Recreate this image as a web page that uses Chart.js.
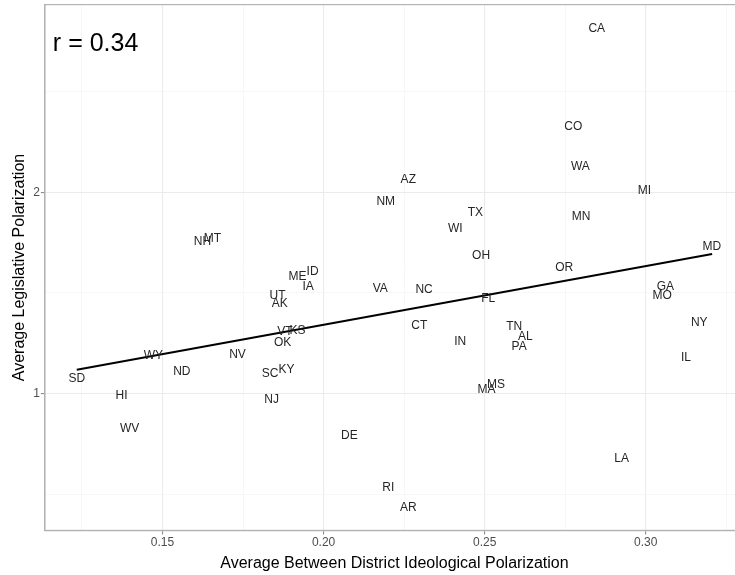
<!DOCTYPE html>
<html>
<head>
<meta charset="utf-8">
<script src="https://cdn.jsdelivr.net/npm/chart.js@4/dist/chart.umd.min.js"></script>
<style>
  html, body { margin: 0; padding: 0; background: #ffffff; overflow: hidden; width: 735px; height: 575px; }
  canvas { display: block; }
</style>
</head>
<body>
<canvas id="c" width="760" height="575"></canvas>
<script>
// ---- data ----
const states = ["CA","CO","WA","AZ","MI","NM","TX","MN","WI","OH","MD","OR",
  "NH","MT","ME","ID","IA","UT","AK","VT","KS","OK",
  "WY","NV","ND","SD","HI","WV","SC","KY","NJ","DE",
  "VA","NC","FL","CT","IN","TN","AL","PA","MS","MA",
  "GA","MO","NY","IL","LA","RI","AR"];
const betweenDistrict = [0.2848,0.2775,0.2797,0.2263,0.2996,0.2193,0.2471,0.2799,0.2409,0.2489,0.3205,0.2747,
  0.1624,0.1655,0.1919,0.1966,0.1952,0.1857,0.1864,0.1880,0.1919,0.1873,
  0.1472,0.1733,0.1560,0.1234,0.1373,0.1398,0.1834,0.1885,0.1839,0.2080,
  0.2176,0.2312,0.2511,0.2297,0.2424,0.2592,0.2626,0.2607,0.2535,0.2506,
  0.3061,0.3051,0.3166,0.3125,0.2925,0.2201,0.2263];
const legislative = [2.812,2.324,2.125,2.064,2.010,1.955,1.897,1.881,1.817,1.684,1.729,1.625,
  1.754,1.770,1.580,1.605,1.530,1.489,1.448,1.307,1.311,1.255,
  1.187,1.192,1.109,1.073,0.989,0.825,1.098,1.118,0.972,0.792,
  1.519,1.514,1.470,1.337,1.258,1.332,1.283,1.233,1.043,1.022,
  1.530,1.489,1.352,1.178,0.676,0.534,0.432];
const fitX = [0.1234, 0.3206];
const fitY = [1.119, 1.693];
const xMajorTicks = [0.15, 0.20, 0.25, 0.30];
const xMinorTicks = [0.125, 0.175, 0.225, 0.275, 0.325];
const yMajorTicks = [1, 2];
const yMinorTicks = [0.5, 1.5, 2.5];
const corrLabel = "r = 0.34";

const FONT = "'Liberation Sans', Arial, Helvetica, sans-serif";
const isMajor = (list, v) => list.some(t => Math.abs(t - v) < 1e-9);

const labelPlugin = {
  id: 'stateLabels',
  afterDatasetsDraw(chart) {
    const ctx = chart.ctx;
    const meta = chart.getDatasetMeta(0);
    ctx.save();
    ctx.font = '12px ' + FONT;
    ctx.fillStyle = '#262626';
    ctx.textAlign = 'center';
    ctx.textBaseline = 'middle';
    meta.data.forEach((pt, i) => {
      ctx.fillText(states[i], pt.x, pt.y);
    });
    ctx.font = '25px ' + FONT;
    ctx.fillStyle = '#000000';
    ctx.textAlign = 'left';
    ctx.fillText(corrLabel, chart.chartArea.left + 8, chart.chartArea.top + 40);
    ctx.restore();
  },
  afterDraw(chart) {
    const a = chart.chartArea;
    const ctx = chart.ctx;
    ctx.save();
    ctx.strokeStyle = '#b3b3b3';
    ctx.lineWidth = 1.2;
    ctx.strokeRect(a.left, a.top, a.right - a.left, a.bottom - a.top);
    ctx.restore();
  }
};

new Chart(document.getElementById('c'), {
  data: {
    datasets: [
      {
        type: 'scatter',
        data: betweenDistrict.map((x, i) => ({ x: x, y: legislative[i] })),
        pointRadius: 0,
        pointHoverRadius: 0,
        order: 2
      },
      {
        type: 'line',
        data: fitX.map((x, i) => ({ x: x, y: fitY[i] })),
        borderColor: '#000000',
        borderWidth: 2,
        pointRadius: 0,
        fill: false,
        order: 1
      }
    ]
  },
  options: {
    responsive: false,
    devicePixelRatio: 1,
    animation: false,
    events: [],
    layout: { padding: { top: 4, right: 16, bottom: 1, left: 9 } },
    plugins: { legend: { display: false }, tooltip: { enabled: false } },
    scales: {
      x: {
        type: 'linear',
        min: 0.1135,
        max: 0.3305,
        afterBuildTicks(scale) {
          scale.ticks = xMinorTicks.concat(xMajorTicks).sort((a, b) => a - b).map(v => ({ value: v }));
        },
        ticks: {
          autoSkip: false,
          maxRotation: 0,
          padding: 1,
          color: '#4d4d4d',
          font: { family: FONT, size: 12 },
          callback: (v) => isMajor(xMajorTicks, v) ? v.toFixed(2) : ''
        },
        grid: {
          color: (c) => isMajor(xMajorTicks, c.tick.value) ? '#ebebeb' : '#f5f5f5',
          lineWidth: (c) => isMajor(xMajorTicks, c.tick.value) ? 1.1 : 0.8,
          tickColor: (c) => isMajor(xMajorTicks, c.tick.value) ? '#8c8c8c' : 'rgba(0,0,0,0)',
          tickLength: 4,
          drawTicks: true
        },
        border: { display: true, color: '#b3b3b3', width: 1.2 },
        title: {
          display: true,
          text: 'Average Between District Ideological Polarization',
          color: '#000000',
          font: { family: FONT, size: 16 },
          padding: { top: 3, bottom: 1 }
        }
      },
      y: {
        type: 'linear',
        min: 0.321,
        max: 2.932,
        afterBuildTicks(scale) {
          scale.ticks = yMinorTicks.concat(yMajorTicks).sort((a, b) => a - b).map(v => ({ value: v }));
        },
        ticks: {
          autoSkip: false,
          padding: 1,
          color: '#4d4d4d',
          font: { family: FONT, size: 12, lineHeight: 0.6 },
          callback: (v) => isMajor(yMajorTicks, v) ? String(v) : ''
        },
        grid: {
          color: (c) => isMajor(yMajorTicks, c.tick.value) ? '#ebebeb' : '#f5f5f5',
          lineWidth: (c) => isMajor(yMajorTicks, c.tick.value) ? 1.1 : 0.8,
          tickColor: (c) => isMajor(yMajorTicks, c.tick.value) ? '#8c8c8c' : 'rgba(0,0,0,0)',
          tickLength: 4,
          drawTicks: true
        },
        border: { display: true, color: '#b3b3b3', width: 1.2 },
        title: {
          display: true,
          text: 'Average Legislative Polarization',
          color: '#000000',
          font: { family: FONT, size: 16 },
          padding: { top: 1, bottom: 3 }
        }
      }
    }
  },
  plugins: [labelPlugin]
});
</script>
</body>
</html>
